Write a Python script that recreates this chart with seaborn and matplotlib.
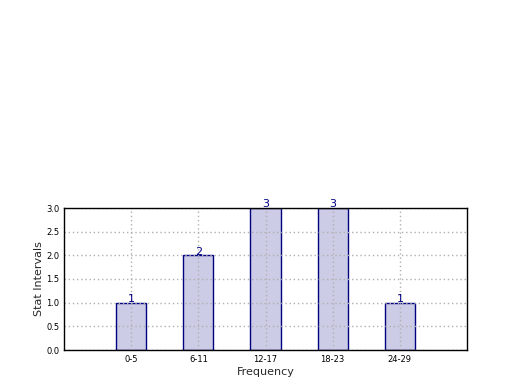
import matplotlib
matplotlib.use("Agg")
import matplotlib.pyplot as plt
import seaborn as sns
import pandas as pd

categories = ["0-5", "6-11", "12-17", "18-23", "24-29"]
counts = [1, 2, 3, 3, 1]

sns.set_style("white")
plt.rcParams['font.family'] = ['DejaVu Sans']

df = pd.DataFrame({"cat": categories, "val": counts})
fig = plt.figure(figsize=(5.2, 3.9), dpi=100)
ax = fig.add_axes([64/520, 40/390, 403/520, 142/390])
sns.barplot(data=df, x="cat", y="val", ax=ax, width=0.45,
            color=(0.8, 0.8, 0.9), edgecolor="navy", linewidth=1, saturation=1)
ax.set_xlim(-1, 5)
ax.set_ylim(0, 3)
ax.set_yticks([0, 0.5, 1, 1.5, 2, 2.5, 3])
ax.set_yticklabels(["0.0", "0.5", "1.0", "1.5", "2.0", "2.5", "3.0"])
ax.tick_params(axis="both", labelsize=6, direction="in", length=3, colors="black")
ax.set_axisbelow(False)
ax.grid(True, linestyle=(0, (1, 2)), color="#b0b0b0", linewidth=1)
for i, v in enumerate(counts):
    ax.text(i, v - 0.03, str(v), ha="center", va="bottom", color="navy", fontsize=8)
ax.set_xlabel("Frequency", fontsize=8, labelpad=2)
ax.set_ylabel("Stat Intervals", fontsize=8, labelpad=1)
for s in ax.spines.values():
    s.set_color("black")
    s.set_linewidth(1)
    s.set_zorder(5)
fig.savefig("out.png", dpi=100, facecolor="white")
